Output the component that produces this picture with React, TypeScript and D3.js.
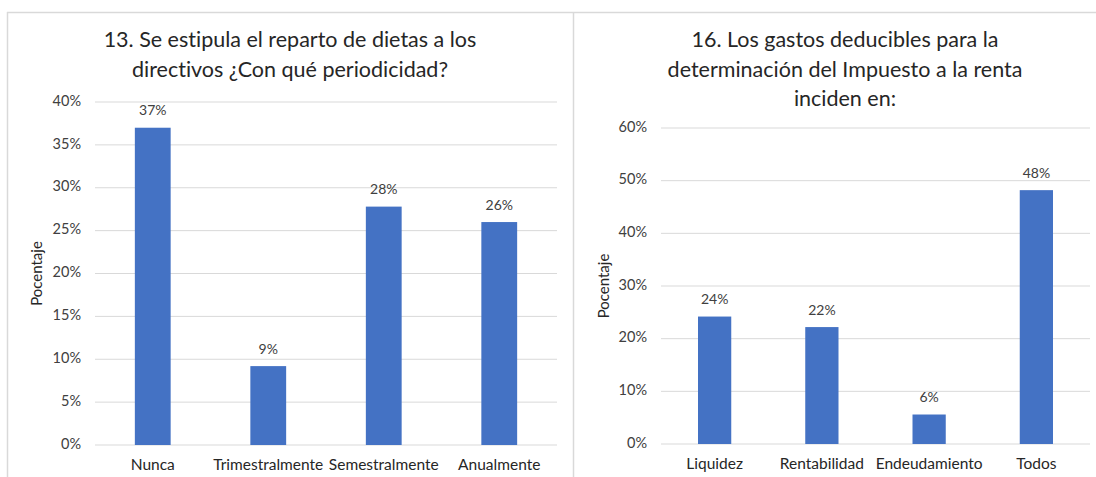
import React from "react";
import * as d3 from "d3";

const leftTitle = ["13. Se estipula el reparto de dietas a los", "directivos ¿Con qué periodicidad?"];
const leftCategories = ["Nunca", "Trimestralmente", "Semestralmente", "Anualmente"];
const leftValues = [37, 9.2, 27.8, 26];
const leftLabels = ["37%", "9%", "28%", "26%"];
const leftTicks = [0, 5, 10, 15, 20, 25, 30, 35, 40];

const rightTitle = ["16. Los gastos deducibles para la", "determinación del Impuesto a la renta", "inciden en:"];
const rightCategories = ["Liquidez", "Rentabilidad", "Endeudamiento", "Todos"];
const rightValues = [24.2, 22.2, 5.6, 48.2];
const rightLabels = ["24%", "22%", "6%", "48%"];
const rightTicks = [0, 10, 20, 30, 40, 50, 60];

const FONT = "Lato, 'Open Sans', sans-serif";
const BAR = "#4472C4";
const TEXT = "#404040";
const GRID = "#D9D9D9";

type PanelProps = {
  title: string[];
  titleX: number;
  titleY: number;
  titleGap: number;
  categories: string[];
  values: number[];
  labels: string[];
  ticks: number[];
  x0: number;
  x1: number;
  yTop: number;
  yBottom: number;
  axisTitleX: number;
};

function Panel(p: PanelProps) {
  const x = d3.scaleBand<string>().domain(p.categories).range([p.x0, p.x1]).paddingInner(0.69).paddingOuter(0.345);
  const y = d3.scaleLinear().domain([0, p.ticks[p.ticks.length - 1]]).range([p.yBottom, p.yTop]);
  const bw = x.bandwidth();
  const mid = (p.yTop + p.yBottom) / 2;
  return (
    <g fontFamily={FONT} style={{ fontVariantLigatures: "none" }}>
      {p.title.map((t, i) => (
        <text key={i} x={p.titleX} y={p.titleY + i * p.titleGap} textAnchor="middle" fontSize={21.5} fill="#262626" dominantBaseline="middle">
          {t}
        </text>
      ))}
      {p.ticks.map((t) => (
        <g key={t}>
          <line x1={p.x0} x2={p.x1} y1={y(t)} y2={y(t)} stroke={GRID} strokeWidth={1} />
          <text x={p.x0 - 14} y={y(t)} textAnchor="end" dominantBaseline="middle" fontSize={14.5} fill={TEXT}>
            {t}%
          </text>
        </g>
      ))}
      {p.categories.map((c, i) => {
        const bx = x(c) as number;
        return (
          <g key={c}>
            <rect x={bx} y={y(p.values[i])} width={bw} height={y(0) - y(p.values[i])} fill={BAR} />
            <text x={bx + bw / 2} y={y(p.values[i]) - 16} textAnchor="middle" dominantBaseline="middle" fontSize={14} fill={TEXT}>
              {p.labels[i]}
            </text>
            <text x={bx + bw / 2} y={p.yBottom + 21} textAnchor="middle" dominantBaseline="middle" fontSize={15.5} fill="#262626">
              {c}
            </text>
          </g>
        );
      })}
      <text
        transform={`translate(${p.axisTitleX},${mid}) rotate(-90)`}
        textAnchor="middle"
        dominantBaseline="middle"
        fontSize={15}
        fill="#262626"
      >
        Pocentaje
      </text>
    </g>
  );
}

export default function App() {
  return (
    <svg width={1096} height={477} style={{ position: "absolute", left: 0, top: 0, background: "#fff" }}>
      <rect x={0} y={0} width={1096} height={477} fill="#fff" />
      <line x1={7} x2={1096} y1={12.5} y2={12.5} stroke="#D9D9D9" strokeWidth={1.5} />
      <line x1={7.5} x2={7.5} y1={12} y2={477} stroke="#D9D9D9" strokeWidth={1.5} />
      <line x1={573.5} x2={573.5} y1={12} y2={477} stroke="#D9D9D9" strokeWidth={1.5} />
      <Panel
        title={leftTitle}
        titleX={290}
        titleY={42}
        titleGap={30}
        categories={leftCategories}
        values={leftValues}
        labels={leftLabels}
        ticks={leftTicks}
        x0={95}
        x1={557}
        yTop={102}
        yBottom={445}
        axisTitleX={38}
      />
      <Panel
        title={rightTitle}
        titleX={845}
        titleY={42}
        titleGap={29.5}
        categories={rightCategories}
        values={rightValues}
        labels={rightLabels}
        ticks={rightTicks}
        x0={661}
        x1={1090}
        yTop={128}
        yBottom={444}
        axisTitleX={605}
      />
    </svg>
  );
}
